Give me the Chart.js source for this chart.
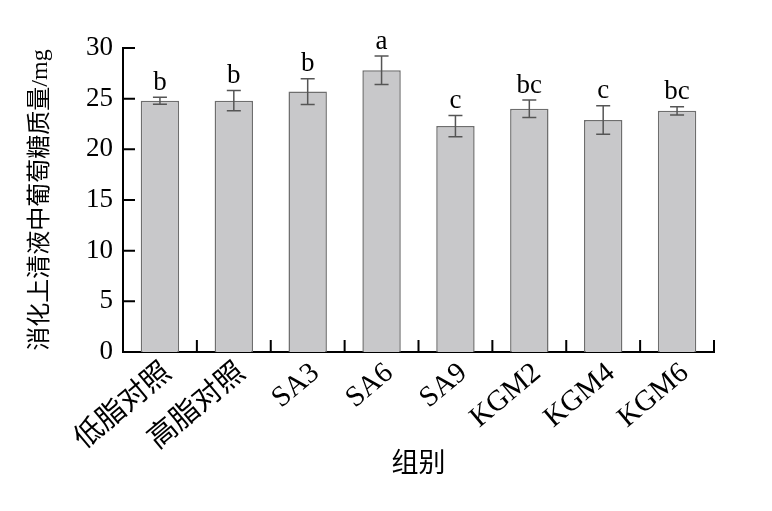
<!DOCTYPE html>
<html>
<head>
<meta charset="utf-8">
<script src="https://cdn.jsdelivr.net/npm/chart.js@4"></script>
<style>
  html, body { margin: 0; padding: 0; background: #fff; }
  #wrap { width: 772px; height: 511px; }
</style>
</head>
<body>
<div id="wrap"><canvas id="glucoseChart"></canvas></div>
<script>
// data
const groups = ['低脂对照', '高脂对照', 'SA3', 'SA6', 'SA9', 'KGM2', 'KGM4', 'KGM6'];
const glucoseMg = [24.8, 24.8, 25.7, 27.8, 22.3, 24.0, 22.9, 23.8];
const errorMg = [0.35, 1.0, 1.27, 1.4, 1.05, 0.87, 1.4, 0.4];
const sigLetters = ['b', 'b', 'b', 'a', 'c', 'bc', 'c', 'bc'];
const yTicks = [0, 5, 10, 15, 20, 25, 30];

const serif = '"Liberation Serif", "Times New Roman", "Noto Sans CJK SC", serif';

// error bars + significance letters
const errorBarPlugin = {
    id: 'errorBars',
    afterDatasetsDraw(chart) {
        const ctx = chart.ctx;
        const meta = chart.getDatasetMeta(0);
        const y = chart.scales.y;
        ctx.save();
        ctx.strokeStyle = '#555';
        ctx.lineWidth = 1.5;
        meta.data.forEach(function (bar, i) {
            const top = y.getPixelForValue(glucoseMg[i] + errorMg[i]);
            const bot = y.getPixelForValue(glucoseMg[i] - errorMg[i]);
            const x = bar.x;
            ctx.beginPath();
            ctx.moveTo(x, top); ctx.lineTo(x, bot);
            ctx.moveTo(x - 7, top); ctx.lineTo(x + 7, top);
            ctx.moveTo(x - 7, bot); ctx.lineTo(x + 7, bot);
            ctx.stroke();

            ctx.fillStyle = '#000';
            ctx.font = '27px ' + serif;
            ctx.textAlign = 'center';
            ctx.textBaseline = 'bottom';
            ctx.fillText(sigLetters[i], x, top - 1);
        });
        ctx.restore();
    }
};

// inward ticks on both axes
const innerTicksPlugin = {
    id: 'innerTicks',
    afterDraw(chart) {
        const ctx = chart.ctx;
        const area = chart.chartArea;
        const y = chart.scales.y;
        ctx.save();
        ctx.strokeStyle = '#000';
        ctx.lineWidth = 2;
        ctx.beginPath();
        yTicks.forEach(function (v) {
            const py = y.getPixelForValue(v);
            ctx.moveTo(area.left, py);
            ctx.lineTo(area.left + 12, py);
        });
        const step = (area.right - area.left) / groups.length;
        for (let i = 1; i <= groups.length; i++) {
            const px = area.left + step * i;
            ctx.moveTo(px, area.bottom);
            ctx.lineTo(px, area.bottom - 12);
        }
        ctx.stroke();
        ctx.restore();
    }
};

new Chart(document.getElementById('glucoseChart'), {
    type: 'bar',
    data: {
        labels: groups,
        datasets: [{
            data: glucoseMg,
            backgroundColor: '#c8c8ca',
            borderColor: '#6e6e6e',
            borderWidth: 1.5,
            borderSkipped: 'bottom',
            categoryPercentage: 1,
            barPercentage: 0.52
        }]
    },
    options: {
        responsive: true,
        maintainAspectRatio: false,
        animation: false,
        layout: { padding: { top: 48, right: 58, bottom: 0, left: 0 } },
        plugins: {
            legend: { display: false },
            tooltip: { enabled: false }
        },
        scales: {
            y: {
                min: 0,
                max: 30,
                afterBuildTicks: function (axis) {
                    axis.ticks = yTicks.map(v => ({ value: v }));
                },
                afterFit: function (axis) { axis.width = 123; },
                grid: { display: false, drawTicks: false },
                border: { display: true, color: '#000', width: 2 },
                ticks: {
                    color: '#000',
                    padding: 10,
                    font: { family: serif, size: 27 }
                },
                title: {
                    display: true,
                    text: '消化上清液中葡萄糖质量/mg',
                    color: '#000',
                    padding: { top: 26, bottom: 0 },
                    font: { family: serif, size: 24 }
                }
            },
            x: {
                afterFit: function (axis) { axis.height = 159; },
                grid: { display: false, drawTicks: false },
                border: { display: true, color: '#000', width: 2 },
                ticks: {
                    color: '#000',
                    padding: 4,
                    labelOffset: 8,
                    minRotation: 40,
                    maxRotation: 40,
                    font: { family: serif, size: 29 }
                },
                title: {
                    display: true,
                    text: '组别',
                    color: '#000',
                    padding: { top: 0, bottom: 30 },
                    font: { family: serif, size: 27 }
                }
            }
        }
    },
    plugins: [errorBarPlugin, innerTicksPlugin]
});
</script>
</body>
</html>
